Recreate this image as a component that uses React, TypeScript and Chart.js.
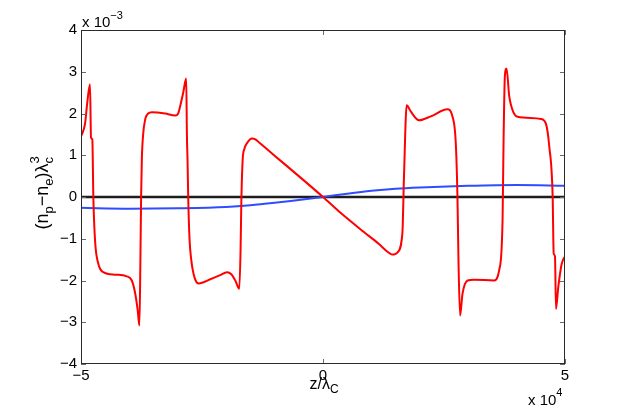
import { useEffect, useRef } from "react";
import { Chart, registerables } from "chart.js";

Chart.register(...registerables);

const FONT = '"Liberation Sans", Arial, Helvetica, sans-serif';

// x values in units of 1e4 (z/λC), y values in units of 1e-3
const zTicks = [-5, 0, 5];
const nTicks = [-4, -3, -2, -1, 0, 1, 2, 3, 4];

const redZ = [
  -5.0, -4.917, -4.876, -4.814, -4.793, -4.766, -4.745, -4.71, -4.642, -4.538,
  -4.296, -4.054, -3.95, -3.882, -3.83, -3.793, -3.772, -3.758, -3.743, -3.716,
  -3.675, -3.613, -3.536, -3.261, -3.054, -2.992, -2.95, -2.888, -2.826, -2.812,
  -2.799, -2.785, -2.758, -2.723, -2.675, -2.619, -2.571, -2.329, -2.122, -1.983,
  -1.894, -1.812, -1.729, -1.702, -1.687, -1.66, -1.625, -1.569, -1.466, -1.398,
  -1.294, -1.0, -0.5, 0.0, 0.362, 0.845, 1.15, 1.3, 1.38, 1.433, 1.49, 1.536,
  1.64, 1.673, 1.729, 1.812, 1.983, 2.226, 2.571, 2.675, 2.743, 2.778,
  2.799, 2.832, 2.882, 2.986, 3.122, 3.536, 3.64, 3.71, 3.731, 3.758,
  3.793, 3.847, 3.938, 4.021, 4.503, 4.607, 4.675, 4.745, 4.766, 4.793,
  4.814, 4.861, 4.932, 5.0,
];
const redN = [
  1.45, 1.75, 2.2, 2.7, 1.42, 1.38, 0.0, -1.04, -1.6, -1.8,
  -1.86, -1.9, -2.0, -2.3, -2.7, -3.08, -1.44, 0.0, 0.9, 1.5,
  1.85, 2.0, 2.03, 2.0, 1.95, 2.0, 2.18, 2.5, 2.84, 1.5,
  0.89, 0.0, -1.0, -1.5, -1.84, -2.03, -2.07, -1.97, -1.87, -1.8,
  -1.85, -2.0, -2.2, -1.2, -0.1, 0.89, 1.15, 1.29, 1.4, 1.38,
  1.28, 0.99, 0.5, 0.0, -0.38, -0.84, -1.12, -1.28, -1.35, -1.38, -1.37, -1.33,
  -0.87, 0.48, 2.2, 2.05, 1.84, 1.93, 2.1, 1.93, 1.3, 0.0,
  -1.52, -2.84, -2.32, -2.0, -1.98, -2.0, -1.75, -0.55, 1.37, 2.9,
  3.08, 2.42, 2.02, 1.92, 1.87, 1.75, 1.21, 0.0, -1.35, -1.42,
  -2.68, -2.16, -1.6, -1.42,
];

const blueZ = [-5, -4, -3, -2, -1.5, -1, -0.5, 0, 0.5, 1, 1.5, 2, 3, 4, 5];
const blueN = [-0.26, -0.28, -0.27, -0.24, -0.2, -0.14, -0.07, 0, 0.08, 0.15, 0.2, 0.23, 0.27, 0.29, 0.27];

const zeroZ = [-5, 5];
const zeroN = [0, 0];

const pts = (xs: number[], ys: number[]) => xs.map((x, i) => ({ x, y: ys[i] }));
const fmt = (v: number) => (v < 0 ? "\u2212" + Math.abs(v) : String(v));

type Run = { t: string; s: number; dy: number; stackNext?: boolean };

function runsWidth(ctx: CanvasRenderingContext2D, runs: Run[]) {
  let w = 0;
  let pending = 0;
  for (const r of runs) {
    ctx.font = `${r.s}px ${FONT}`;
    const m = ctx.measureText(r.t).width;
    if (r.stackNext) {
      pending = Math.max(pending, m);
    } else {
      w += Math.max(pending, m);
      pending = 0;
    }
  }
  return w;
}

function drawRuns(ctx: CanvasRenderingContext2D, runs: Run[], x: number, y: number) {
  let cx = x;
  for (const r of runs) {
    ctx.font = `${r.s}px ${FONT}`;
    ctx.fillText(r.t, cx, y + r.dy);
    const m = ctx.measureText(r.t).width;
    if (!r.stackNext) cx += m;
  }
}

const decorPlugin = {
  id: "decor",
  afterDraw(chart: any) {
    const { ctx, chartArea } = chart;
    const { left, right, top, bottom } = chartArea;
    const xs = chart.scales.x;
    const ys = chart.scales.y;
    ctx.save();
    // inward ticks
    ctx.strokeStyle = "#6a6a6a";
    ctx.lineWidth = 1;
    ctx.beginPath();
    for (const v of nTicks) {
      const py = Math.round(ys.getPixelForValue(v)) + 0.5;
      ctx.moveTo(left, py);
      ctx.lineTo(left + 5, py);
      ctx.moveTo(right, py);
      ctx.lineTo(right - 5, py);
    }
    for (const v of zTicks) {
      const px = Math.round(xs.getPixelForValue(v)) + 0.5;
      ctx.moveTo(px, bottom);
      ctx.lineTo(px, bottom - 5);
      ctx.moveTo(px, top);
      ctx.lineTo(px, top + 5);
    }
    ctx.stroke();
    // box
    ctx.strokeStyle = "#2b2b2b";
    ctx.lineWidth = 1;
    ctx.strokeRect(left + 0.5, top + 0.5, right - left - 1, bottom - top - 1);

    ctx.fillStyle = "#000";
    ctx.textBaseline = "alphabetic";
    ctx.textAlign = "left";
    // exponent labels
    drawRuns(ctx, [{ t: "x 10", s: 15, dy: 0 }, { t: "\u22123", s: 11, dy: -8 }], 82, 27);
    drawRuns(ctx, [{ t: "x 10", s: 15, dy: 0 }, { t: "4", s: 11, dy: -9 }], 528, 405);

    // x title
    const xr: Run[] = [
      { t: "z/\u03bb", s: 16, dy: 0 },
      { t: "C", s: 12, dy: 4 },
    ];
    const xw = runsWidth(ctx, xr);
    drawRuns(ctx, xr, 324 - xw / 2, 389);

    // y title
    const yr: Run[] = [
      { t: "(n", s: 18, dy: 0 },
      { t: "p", s: 13, dy: 5 },
      { t: "\u2212n", s: 18, dy: 0 },
      { t: "e", s: 13, dy: 5 },
      { t: ")\u03bb", s: 18, dy: 0 },
      { t: "c", s: 13, dy: 5, stackNext: true },
      { t: "3", s: 13, dy: -9 },
    ];
    const yw = runsWidth(ctx, yr);
    ctx.translate(48, 193);
    ctx.rotate(-Math.PI / 2);
    drawRuns(ctx, yr, -yw / 2, 0);
    ctx.restore();
  },
};

export default function App() {
  const ref = useRef<HTMLCanvasElement | null>(null);
  useEffect(() => {
    if (!ref.current) return;
    const chart = new Chart(ref.current, {
      type: "line",
      data: {
        datasets: [
          {
            data: pts(redZ, redN),
            borderColor: "#ff0000",
            borderWidth: 2,
            pointRadius: 0,
            cubicInterpolationMode: "monotone",
            order: 0,
          },
          {
            data: pts(blueZ, blueN),
            borderColor: "#2f4dff",
            borderWidth: 2,
            pointRadius: 0,
            cubicInterpolationMode: "monotone",
            order: 1,
          },
          {
            data: pts(zeroZ, zeroN),
            borderColor: "#1e1e1e",
            borderWidth: 2.5,
            pointRadius: 0,
            order: 2,
          },
        ],
      },
      options: {
        animation: false,
        responsive: false,
        devicePixelRatio: 1,
        layout: { padding: { left: 0, top: 30, right: 58, bottom: 0 } },
        plugins: { legend: { display: false }, tooltip: { enabled: false } },
        scales: {
          x: {
            type: "linear",
            min: -5,
            max: 5,
            afterFit: (s: any) => {
              s.height = 45;
            },
            afterBuildTicks: (s: any) => {
              s.ticks = zTicks.map((v) => ({ value: v }));
            },
            grid: { display: false, drawTicks: false },
            border: { display: false },
            ticks: {
              padding: 3,
              color: "#000",
              font: { family: FONT, size: 15 },
              maxRotation: 0,
              autoSkip: false,
              callback: (v: any) => fmt(Number(v)),
            },
          },
          y: {
            type: "linear",
            min: -4,
            max: 4,
            afterFit: (s: any) => {
              s.width = 81;
            },
            afterBuildTicks: (s: any) => {
              s.ticks = nTicks.map((v) => ({ value: v }));
            },
            grid: { display: false, drawTicks: false },
            border: { display: false },
            ticks: {
              padding: 4,
              color: "#000",
              font: { family: FONT, size: 15 },
              autoSkip: false,
              callback: (v: any) => fmt(Number(v)),
            },
          },
        },
      },
      plugins: [decorPlugin],
    });
    return () => chart.destroy();
  }, []);
  return (
    <div style={{ position: "fixed", left: 0, top: 0, width: 623, height: 409, background: "#fff" }}>
      <canvas ref={ref} width={623} height={409} style={{ display: "block", width: 623, height: 409 }} />
    </div>
  );
}
